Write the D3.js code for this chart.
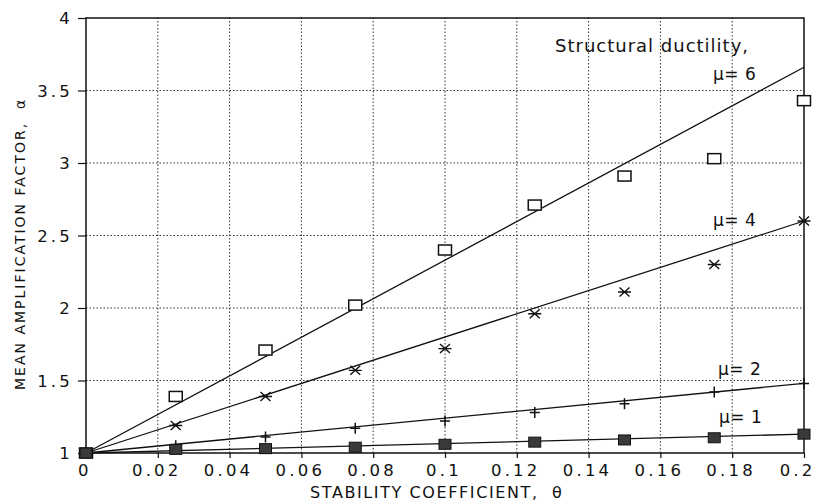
<!DOCTYPE html>
<html>
<head>
<meta charset="utf-8">
<script src="https://cdn.jsdelivr.net/npm/d3@7"></script>
<style>
body { margin: 0; background: #fff; }
svg text { font-family: "DejaVu Sans", sans-serif; fill: #111; white-space: pre; }
</style>
</head>
<body>
<div id="chart"></div>
<script>
var theta = [0, 0.025, 0.05, 0.075, 0.1, 0.125, 0.15, 0.175, 0.2];
var mu6 = [1, 1.39, 1.71, 2.02, 2.40, 2.71, 2.91, 3.03, 3.43];
var mu4 = [1, 1.19, 1.39, 1.57, 1.72, 1.96, 2.11, 2.30, 2.60];
var mu2 = [1, 1.05, 1.11, 1.17, 1.22, 1.28, 1.34, 1.42, 1.48];
var mu1 = [1, 1.025, 1.03, 1.04, 1.06, 1.075, 1.09, 1.105, 1.13];
// fitted lines, value reached at theta = 0.2 (all start at 1)
var fitEnd = [3.66, 2.60, 1.48, 1.13];
var xTicks = [0, 0.02, 0.04, 0.06, 0.08, 0.1, 0.12, 0.14, 0.16, 0.18, 0.2];
var yTicks = [1, 1.5, 2, 2.5, 3, 3.5, 4];
var muLabels = ["μ= 6", "μ= 4", "μ= 2", "μ= 1"];

var W = 817, H = 504;
var x = d3.scaleLinear().domain([0, 0.2]).range([86, 804]);
var y = d3.scaleLinear().domain([1, 4]).range([453, 18]);

var svg = d3.select("#chart").append("svg")
    .attr("width", W).attr("height", H);

// dotted grid
svg.append("g").selectAll("line")
    .data(xTicks.slice(1, -1)).enter().append("line")
    .attr("x1", d => x(d)).attr("x2", d => x(d))
    .attr("y1", y(1)).attr("y2", y(4))
    .attr("stroke", "#333").attr("stroke-width", 1)
    .attr("stroke-dasharray", "1.5,2");
svg.append("g").selectAll("line")
    .data(yTicks.slice(1, -1)).enter().append("line")
    .attr("x1", x(0)).attr("x2", x(0.2))
    .attr("y1", d => y(d)).attr("y2", d => y(d))
    .attr("stroke", "#333").attr("stroke-width", 1)
    .attr("stroke-dasharray", "1.5,2");

// axes
var xAxis = d3.axisBottom(x).tickValues(xTicks).tickSize(5).tickPadding(6)
    .tickFormat(d3.format("~g"));
var yAxis = d3.axisLeft(y).tickValues(yTicks).tickSize(8).tickPadding(5)
    .tickFormat(d3.format("~g"));

var gx = svg.append("g")
    .attr("transform", "translate(0," + y(1) + ")")
    .call(xAxis);
var gy = svg.append("g")
    .attr("transform", "translate(" + x(0) + ",0)")
    .call(yAxis);
[gx, gy].forEach(g => {
    g.select(".domain").remove();
    g.selectAll("line").attr("stroke", "#111").attr("stroke-width", 1.2);
    g.selectAll("text").attr("font-size", 16.5).attr("letter-spacing", 3.2)
        .attr("font-family", "DejaVu Sans").attr("fill", "#111");
});
gx.selectAll("text").attr("dx", -1.6);
gx.selectAll("text").filter(d => d === 0.2)
    .attr("text-anchor", "end").attr("dx", 0).attr("x", 11);
gy.selectAll("text").attr("dy", "0.36em");

// frame
svg.append("rect")
    .attr("x", x(0)).attr("y", y(4))
    .attr("width", x(0.2) - x(0)).attr("height", y(1) - y(4))
    .attr("fill", "none").attr("stroke", "#111").attr("stroke-width", 1.5);

// fitted lines
svg.append("g").selectAll("line")
    .data(fitEnd).enter().append("line")
    .attr("x1", x(0)).attr("y1", y(1))
    .attr("x2", x(0.2)).attr("y2", d => y(d))
    .attr("stroke", "#111").attr("stroke-width", 1.3);

// markers
function pts(vals) { return vals.map((v, i) => [theta[i], v]); }

svg.append("g").selectAll("rect")
    .data(pts(mu6)).enter().append("rect")
    .attr("x", d => x(d[0]) - 6.5).attr("y", d => y(d[1]) - 5)
    .attr("width", 13).attr("height", 10)
    .attr("fill", "#fff").attr("stroke", "#111").attr("stroke-width", 1.5);

var star = "M-6.5,0H6.5M-5,-4.5L5,4.5M-5,4.5L5,-4.5";
svg.append("g").selectAll("path")
    .data(pts(mu4)).enter().append("path")
    .attr("transform", d => "translate(" + x(d[0]) + "," + y(d[1]) + ")")
    .attr("d", star)
    .attr("stroke", "#111").attr("stroke-width", 1.4).attr("fill", "none");

var plus = "M-5,0H5M0,-5.5V5.5";
svg.append("g").selectAll("path")
    .data(pts(mu2)).enter().append("path")
    .attr("transform", d => "translate(" + x(d[0]) + "," + y(d[1]) + ")")
    .attr("d", plus)
    .attr("stroke", "#111").attr("stroke-width", 1.5).attr("fill", "none");

svg.append("g").selectAll("rect")
    .data(pts(mu1)).enter().append("rect")
    .attr("x", d => x(d[0]) - 6).attr("y", d => y(d[1]) - 5)
    .attr("width", 12).attr("height", 10)
    .attr("fill", "#3a3a3a").attr("stroke", "#111").attr("stroke-width", 1);

// annotations
svg.append("text")
    .attr("x", 555).attr("y", 52)
    .attr("font-size", 18).attr("letter-spacing", 1)
    .text("Structural ductility,");

var labelPos = [[713, 80], [713, 226], [718, 375], [719, 423]];
svg.append("g").selectAll("text")
    .data(muLabels).enter().append("text")
    .attr("x", (d, i) => labelPos[i][0]).attr("y", (d, i) => labelPos[i][1])
    .attr("font-size", 17).attr("letter-spacing", 0.5)
    .text(d => d);

// axis titles
svg.append("text")
    .attr("x", 310).attr("y", 498)
    .attr("font-size", 16).attr("letter-spacing", 1.6)
    .text("STABILITY COEFFICIENT,  θ");

svg.append("g")
    .attr("transform", "translate(25," + 390 + ")")
    .append("text")
    .attr("transform", "rotate(-90)")
    .attr("font-size", 14).attr("letter-spacing", 2)
    .text("MEAN AMPLIFICATION FACTOR,  α");
</script>
</body>
</html>
